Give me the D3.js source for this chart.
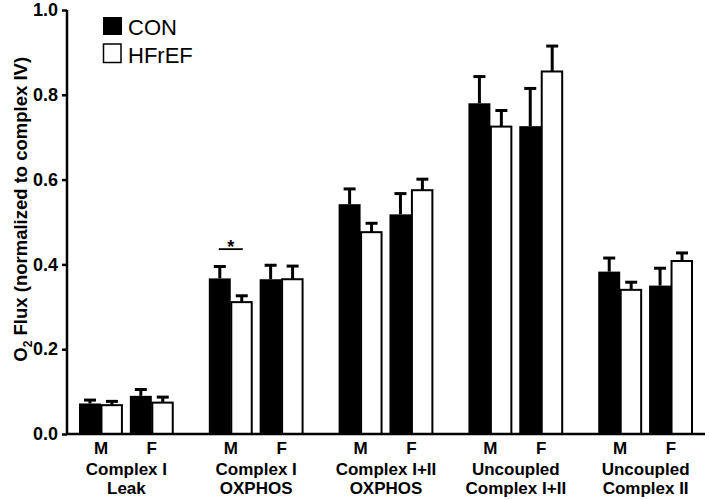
<!DOCTYPE html>
<html>
<head>
<meta charset="utf-8">
<script src="https://cdn.jsdelivr.net/npm/d3@7"></script>
<style>
  html, body { margin: 0; padding: 0; background: #fff; }
  svg { display: block; font-family: "Liberation Sans", Arial, sans-serif; }
</style>
</head>
<body>
<svg id="chart" width="709" height="500"></svg>
<script>
// ---- data ----
const groups = ["Complex I\nLeak", "Complex I\nOXPHOS", "Complex I+II\nOXPHOS", "Uncoupled\nComplex I+II", "Uncoupled\nComplex II"];
const sexes = ["M", "F"];
const conditions = ["CON", "HFrEF"];
// values ordered [group][sex]
const conMean   = [[0.072, 0.090], [0.367, 0.365], [0.542, 0.518], [0.780, 0.726], [0.383, 0.350]];
const conErr    = [[0.008, 0.015], [0.028, 0.033], [0.036, 0.049], [0.063, 0.089], [0.032, 0.041]];
const hfMean    = [[0.068, 0.074], [0.311, 0.365], [0.476, 0.575], [0.725, 0.855], [0.340, 0.408]];
const hfErr     = [[0.009, 0.013], [0.015, 0.031], [0.021, 0.026], [0.038, 0.060], [0.018, 0.019]];
const yTicks = [0.0, 0.2, 0.4, 0.6, 0.8, 1.0];
const sigGroup = 1, sigSex = "M", sigValue = 0.436, sigLabel = "*";
const yTitle = "Flux (normalized to complex IV)";

const svg = d3.select("#chart");
const fill = { CON: "#000", HFrEF: "#fff" };

const y = d3.scaleLinear().domain([0, 1]).range([434, 10]);
const x0 = d3.scaleBand().domain(groups).range([79, 693]).paddingInner(0.27).paddingOuter(0);
const x1 = d3.scaleBand().domain(sexes).range([0, x0.bandwidth()]).paddingInner(0.136).paddingOuter(0);
const x2 = d3.scaleBand().domain(conditions).range([0, x1.bandwidth()]).padding(0);

const rows = [];
groups.forEach((g, gi) => sexes.forEach((s, si) => {
  rows.push({ g, s, c: "CON", v: conMean[gi][si], e: conErr[gi][si] });
  rows.push({ g, s, c: "HFrEF", v: hfMean[gi][si], e: hfErr[gi][si] });
}));
const bx = d => x0(d.g) + x1(d.s) + x2(d.c);

// error bars (upward only)
const eb = svg.append("g");
rows.forEach(d => {
  const cx = bx(d) + x2.bandwidth() / 2;
  eb.append("line").attr("x1", cx).attr("x2", cx).attr("y1", y(d.v)).attr("y2", y(d.v + d.e))
    .attr("stroke", "#000").attr("stroke-width", 3);
  eb.append("line").attr("x1", cx - 6).attr("x2", cx + 6).attr("y1", y(d.v + d.e)).attr("y2", y(d.v + d.e))
    .attr("stroke", "#000").attr("stroke-width", 3);
});

// bars
svg.append("g").selectAll("rect").data(rows).join("rect")
  .attr("x", d => bx(d) + (d.c === "HFrEF" ? 0.5 : 0))
  .attr("y", d => y(d.v))
  .attr("width", d => x2.bandwidth() - (d.c === "HFrEF" ? 1.5 : 0))
  .attr("height", d => y(0) - y(d.v))
  .attr("fill", d => fill[d.c])
  .attr("stroke", "#000")
  .attr("stroke-width", d => d.c === "HFrEF" ? 2 : 0);

// y axis
const yAxis = svg.append("g").attr("transform", "translate(67,0)")
  .call(d3.axisLeft(y).tickValues(yTicks).tickFormat(d3.format(".1f")).tickSize(5).tickPadding(4));
yAxis.select(".domain").attr("stroke-width", 2.5).attr("d", `M0,${y(1)}V${y(0)}`);
yAxis.selectAll(".tick line").attr("stroke-width", 2.5);
yAxis.selectAll(".tick text").attr("font-size", 18).attr("font-weight", "bold")
  .attr("font-family", "Liberation Sans, Arial, sans-serif").attr("fill", "#000");

// x axis line
svg.append("line").attr("x1", 66).attr("x2", 705).attr("y1", y(0)).attr("y2", y(0))
  .attr("stroke", "#000").attr("stroke-width", 2.5);

// x labels
const xl = svg.append("g").attr("font-weight", "bold").attr("fill", "#000").attr("text-anchor", "middle");
groups.forEach(g => {
  sexes.forEach(s => {
    xl.append("text").attr("x", x0(g) + x1(s) + x1.bandwidth() / 2).attr("y", 454)
      .attr("font-size", 17).text(s);
  });
  g.split("\n").forEach((line, li) => {
    xl.append("text").attr("x", x0(g) + x0.bandwidth() / 2).attr("y", 475 + li * 19)
      .attr("font-size", 17).text(line);
  });
});

// y title
const yt = svg.append("text").attr("transform", `translate(27,${y(0.53)}) rotate(-90)`)
  .attr("text-anchor", "middle").attr("font-size", 18.5).attr("font-weight", "bold").attr("fill", "#000");
yt.append("tspan").text("O");
yt.append("tspan").attr("font-size", 12).attr("dy", 5).text("2");
yt.append("tspan").attr("dy", -5).text(" " + yTitle);

// significance
const sg = groups[sigGroup];
const scx = x0(sg) + x1(sigSex) + x1.bandwidth() / 2;
svg.append("line").attr("x1", scx - 12).attr("x2", scx + 12).attr("y1", y(sigValue)).attr("y2", y(sigValue))
  .attr("stroke", "#000").attr("stroke-width", 1.8);
svg.append("text").attr("x", scx).attr("y", y(sigValue) + 4)
  .attr("text-anchor", "middle").attr("font-size", 18).attr("font-weight", "bold").text(sigLabel);

// legend
const lg = svg.append("g");
conditions.forEach((c, i) => {
  const hollow = c === "HFrEF";
  lg.append("rect").attr("x", hollow ? 103.5 : 103).attr("y", (hollow ? 44 : 17) )
    .attr("width", hollow ? 17.5 : 19).attr("height", hollow ? 18.5 : 18)
    .attr("fill", fill[c]).attr("stroke", "#000").attr("stroke-width", hollow ? 1.5 : 0);
  lg.append("text").attr("x", 128).attr("y", 35 + i * 28).attr("font-size", 22).attr("fill", "#000").text(c);
});
</script>
</body>
</html>
